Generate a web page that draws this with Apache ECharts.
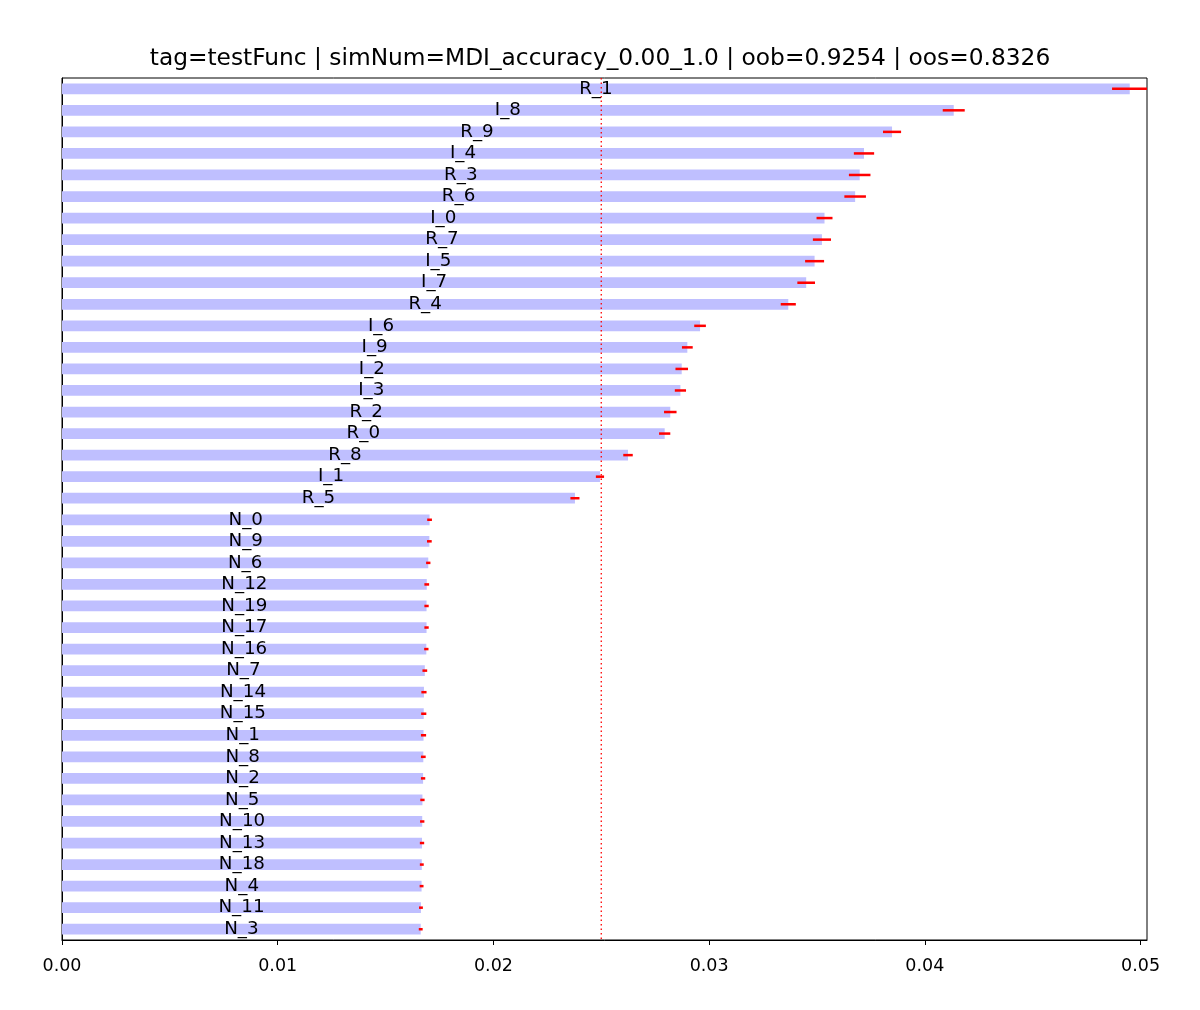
<!DOCTYPE html>
<html lang="en">
<head>
    <meta charset="utf-8">
    <title>Feature importance</title>
    <script type="text/javascript" src="https://cdn.jsdelivr.net/npm/echarts@6/dist/echarts.min.js"></script>
    <style>
        html, body { margin: 0; padding: 0; background: #fff; }
        #chart { width: 1200px; height: 1010px; }
    </style>
</head>
<body>
<div id="chart"></div>

<script type="text/javascript">
    // feature names, top to bottom
    var categories = ['R_1', 'I_8', 'R_9', 'I_4', 'R_3', 'R_6', 'I_0', 'R_7', 'I_5', 'I_7',
        'R_4', 'I_6', 'I_9', 'I_2', 'I_3', 'R_2', 'R_0', 'R_8', 'I_1', 'R_5',
        'N_0', 'N_9', 'N_6', 'N_12', 'N_19', 'N_17', 'N_16', 'N_7', 'N_14', 'N_15',
        'N_1', 'N_8', 'N_2', 'N_5', 'N_10', 'N_13', 'N_18', 'N_4', 'N_11', 'N_3'];

    // mean importance
    var means = [0.04950, 0.04134, 0.03848, 0.03718, 0.03698, 0.03677, 0.03535, 0.03523, 0.03489, 0.03450,
        0.03367, 0.02958, 0.02899, 0.02873, 0.02867, 0.02820, 0.02794, 0.02624, 0.02494, 0.02378,
        0.01704, 0.01703, 0.01698, 0.01691, 0.01690, 0.01690, 0.01689, 0.01682, 0.01678, 0.01677,
        0.01676, 0.01675, 0.01674, 0.01671, 0.01670, 0.01669, 0.01668, 0.01667, 0.01664, 0.01663];

    // std of importance (error bars)
    var stds = [0.00082, 0.00051, 0.00042, 0.00047, 0.00050, 0.00050, 0.00037, 0.00042, 0.00044, 0.00041,
        0.00035, 0.00027, 0.00025, 0.00029, 0.00026, 0.00029, 0.00026, 0.00022, 0.00019, 0.00021,
        0.00011, 0.00011, 0.00010, 0.00011, 0.00010, 0.00010, 0.00010, 0.00011, 0.00012, 0.00012,
        0.00012, 0.00011, 0.00010, 0.00010, 0.00010, 0.00010, 0.00009, 0.00009, 0.00009, 0.00009];

    var xTicks = [0, 0.01, 0.02, 0.03, 0.04, 0.05];
    var xMax = 0.0503;
    var threshold = 1 / categories.length;   // 1/numFeatures line

    var titleText = 'tag=testFunc | simNum=MDI_accuracy_0.00_1.0 | oob=0.9254 | oos=0.8326';

    var errData = [];
    for (var i = 0; i < means.length; i++) {
        errData.push([means[i] - stds[i], means[i] + stds[i], i]);
    }

    var font = 'DejaVu Sans';
    var myChart = echarts.init(document.getElementById('chart'));
    var option = {
        backgroundColor: '#ffffff',
        animation: false,
        title: {
            text: titleText,
            left: 'center',
            top: 42,
            padding: [5, 0, 5, 9],
            textStyle: { fontFamily: font, fontSize: 23.3, fontWeight: 'normal', color: '#000' }
        },
        grid: {
            left: 62, right: 53, top: 78, bottom: 70,
            show: true, borderColor: '#000', borderWidth: 1, backgroundColor: 'transparent'
        },
        xAxis: {
            type: 'value',
            min: 0,
            max: xMax,
            splitLine: { show: false },
            axisLine: { show: true, lineStyle: { color: '#000', width: 1 } },
            axisTick: { show: true, length: 5, customValues: xTicks, lineStyle: { color: '#000' } },
            axisLabel: {
                customValues: xTicks,
                color: '#000', fontFamily: font, fontSize: 17.5, margin: 17,
                formatter: function (v) { return v.toFixed(2); }
            }
        },
        yAxis: {
            type: 'category',
            data: categories,
            inverse: true,
            axisLine: { show: true, lineStyle: { color: '#000' } },
            axisTick: { show: false },
            axisLabel: { show: false },
            splitLine: { show: false }
        },
        series: [
            {
                type: 'bar',
                data: means,
                barWidth: '50%',
                itemStyle: { color: '#bfbfff' },
                label: {
                    show: true,
                    position: 'inside',
                    color: '#000',
                    fontFamily: font,
                    fontSize: 18.3,
                    formatter: function (p) { return p.name; }
                },
                z: 2
            },
            {
                // vertical 1/N reference line across the whole plot
                type: 'custom',
                data: [[threshold]],
                encode: { x: 0 },
                renderItem: function (params, api) {
                    var cs = params.coordSys;
                    var x = api.coord([api.value(0), 0])[0];
                    return {
                        type: 'line',
                        shape: { x1: x, y1: cs.y, x2: x, y2: cs.y + cs.height },
                        style: { stroke: '#ff0000', lineWidth: 1.3, lineDash: [1.5, 3] }
                    };
                },
                z: 3
            },
            {
                type: 'custom',
                clip: true,
                data: errData,
                encode: { x: [0, 1], y: 2 },
                renderItem: function (params, api) {
                    var a = api.coord([api.value(0), api.value(2)]);
                    var b = api.coord([api.value(1), api.value(2)]);
                    return {
                        type: 'line',
                        shape: { x1: a[0], y1: a[1], x2: b[0], y2: b[1] },
                        style: { stroke: '#ff0000', lineWidth: 2.5 }
                    };
                },
                z: 4
            }
        ]
    };
    myChart.setOption(option);
</script>
</body>
</html>
